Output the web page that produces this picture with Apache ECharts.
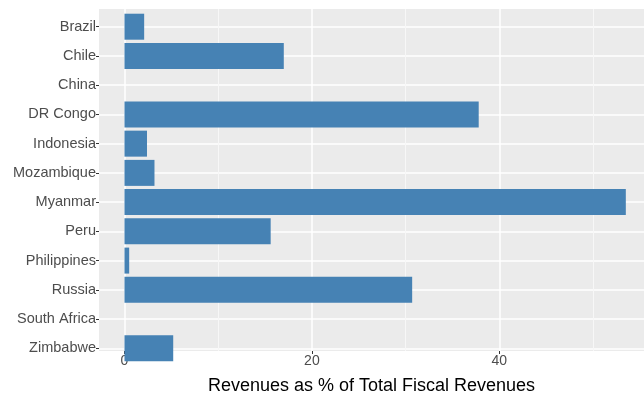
<!DOCTYPE html>
<html>
<head>
<meta charset="utf-8">
<script src="https://cdn.jsdelivr.net/npm/echarts@6/dist/echarts.min.js"></script>
<style>
  html, body { margin: 0; padding: 0; background: #fff; }
  #chart { width: 644px; height: 400px; }
</style>
</head>
<body>
<div id="chart"></div>
<script>
const countries = ['Brazil', 'Chile', 'China', 'DR Congo', 'Indonesia', 'Mozambique',
    'Myanmar', 'Peru', 'Philippines', 'Russia', 'South Africa', 'Zimbabwe'];
const revenueShare = [2.1, 17.0, 0, 37.8, 2.4, 3.2, 53.5, 15.6, 0.5, 30.7, 0, 5.2];
const majorTicks = [0, 20, 40];
const minorTicks = [10, 30, 50];
const xMin = -2.72;
const xMax = 55.44;

const chart = echarts.init(document.getElementById('chart'));
const labelFont = 'Liberation Sans, Arial, Helvetica, sans-serif';

const option = {
    animation: false,
    grid: [
        // panel background + vertical grid lines
        { left: 99, right: 0, top: 9, bottom: 34, show: true, backgroundColor: '#EBEBEB', borderWidth: 0 },
        // bars: category centres sit on the grid edges, like ggplot's discrete scale
        { left: 99, right: 0, top: 26.7, bottom: 400 - 348.3 }
    ],
    xAxis: [
        {
            gridIndex: 0, type: 'value', min: xMin, max: xMax,
            axisLine: { show: false, onZero: false },
            axisTick: { show: true, length: 3, lineStyle: { color: '#333' }, customValues: majorTicks },
            axisLabel: { customValues: majorTicks, color: '#4D4D4D', fontSize: 14, fontFamily: labelFont, margin: 3 },
            splitLine: { show: true, lineStyle: { color: '#FFFFFF', width: 1.5 } },
            name: 'Revenues as % of Total Fiscal Revenues',
            nameLocation: 'middle', nameGap: 26,
            nameTextStyle: { color: '#000', fontSize: 18, fontFamily: labelFont }
        },
        {
            gridIndex: 0, type: 'value', min: xMin, max: xMax,
            axisLine: { show: false, onZero: false },
            axisTick: { show: false, customValues: minorTicks },
            axisLabel: { show: false },
            splitLine: { show: true, lineStyle: { color: '#F7F7F7', width: 1 } }
        },
        {
            gridIndex: 1, type: 'value', min: xMin, max: xMax, show: false
        }
    ],
    yAxis: [
        { gridIndex: 0, type: 'value', show: false, splitLine: { show: false } },
        {
            gridIndex: 1, type: 'category', data: countries, inverse: true, boundaryGap: false,
            axisLine: { show: false, onZero: false },
            axisTick: { show: true, length: 3, lineStyle: { color: '#333' } },
            axisLabel: { color: '#4D4D4D', fontSize: 14.5, fontFamily: labelFont, margin: 3 },
            splitLine: { show: true, lineStyle: { color: '#FFFFFF', width: 1.5 } }
        }
    ],
    series: [{
        type: 'bar',
        xAxisIndex: 2,
        yAxisIndex: 1,
        data: revenueShare,
        barWidth: 26,
        clip: false,
        itemStyle: { color: '#4682B4' }
    }]
};

chart.setOption(option);
</script>
</body>
</html>
